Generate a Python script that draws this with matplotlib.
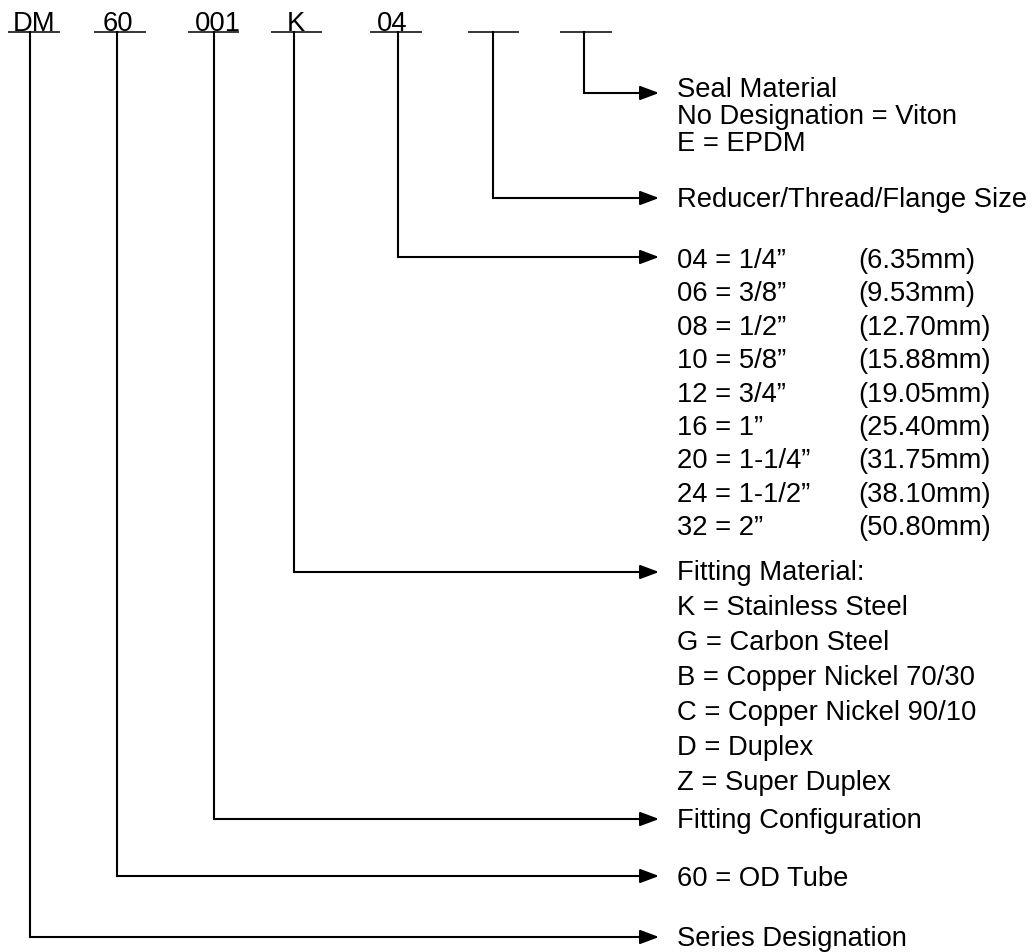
import matplotlib.pyplot as plt

# part-number segments along the top
codes = ["DM", "60", "001", "K", "04", "", ""]
under_x0 = [8, 94, 188, 271, 370, 468, 560]
under_x1 = [60, 146, 239, 322, 422, 519, 612]
text_x = [13, 103, 195, 287, 377, 0, 0]
stem_x = [30, 117, 214, 294, 398, 493, 584]
arrow_y = [937, 876, 819, 572, 257, 198, 93]

# descriptions (one block per segment)
seal_lines = ["Seal Material", "No Designation = Viton", "E = EPDM"]
reducer_lines = ["Reducer/Thread/Flange Size"]
size_codes = ["04", "06", "08", "10", "12", "16", "20", "24", "32"]
size_inch = ["1/4\u201d", "3/8\u201d", "1/2\u201d", "5/8\u201d", "3/4\u201d",
             "1\u201d", "1-1/4\u201d", "1-1/2\u201d", "2\u201d"]
size_mm = ["(6.35mm)", "(9.53mm)", "(12.70mm)", "(15.88mm)", "(19.05mm)",
           "(25.40mm)", "(31.75mm)", "(38.10mm)", "(50.80mm)"]
material_lines = ["Fitting Material:", "K = Stainless Steel", "G = Carbon Steel",
                  "B = Copper Nickel 70/30", "C = Copper Nickel 90/10",
                  "D = Duplex", "Z = Super Duplex"]
config_lines = ["Fitting Configuration"]
tube_lines = ["60 = OD Tube"]
series_lines = ["Series Designation"]

W, H = 1034, 952
fig = plt.figure(figsize=(W / 100, H / 100), dpi=100)
ax = fig.add_axes([0, 0, 1, 1])
ax.set_xlim(0, W)
ax.set_ylim(H, 0)
ax.axis("off")

FONT = dict(family="Liberation Sans", fontsize=19.7, color="black")
tip_x = 659
lab_x = 677
top_y = 32

# top codes, underlines, stems and arrows
for i in range(len(codes)):
    ax.plot([under_x0[i], under_x1[i]], [top_y, top_y], color="black", lw=1.1,
            solid_capstyle="butt")
    if codes[i]:
        ax.text(text_x[i], top_y - 1, codes[i], ha="left", va="baseline", **FONT)
    ax.plot([stem_x[i], stem_x[i]], [top_y, arrow_y[i]], color="black", lw=1.5,
            solid_capstyle="projecting")
    ax.annotate("", xy=(tip_x, arrow_y[i]), xytext=(stem_x[i], arrow_y[i]),
                arrowprops=dict(arrowstyle="-|>,head_length=0.8,head_width=0.3",
                                mutation_scale=14.4, lw=1.5, color="black",
                                shrinkA=0, shrinkB=0))


def block(lines, y0, step):
    for j, s in enumerate(lines):
        ax.text(lab_x, y0 + j * step, s, ha="left", va="baseline", **FONT)


block(seal_lines, 97, 27)
block(reducer_lines, 207, 0)
for j in range(len(size_codes)):
    y = 268 + j * 33.4
    ax.text(lab_x, y, size_codes[j] + " = " + size_inch[j], ha="left",
            va="baseline", **FONT)
    ax.text(858, y, size_mm[j], ha="left", va="baseline", **FONT)
block(material_lines, 580, 35)
block(config_lines, 828, 0)
block(tube_lines, 886, 0)
block(series_lines, 946, 0)

fig.savefig("out.png", dpi=100)
